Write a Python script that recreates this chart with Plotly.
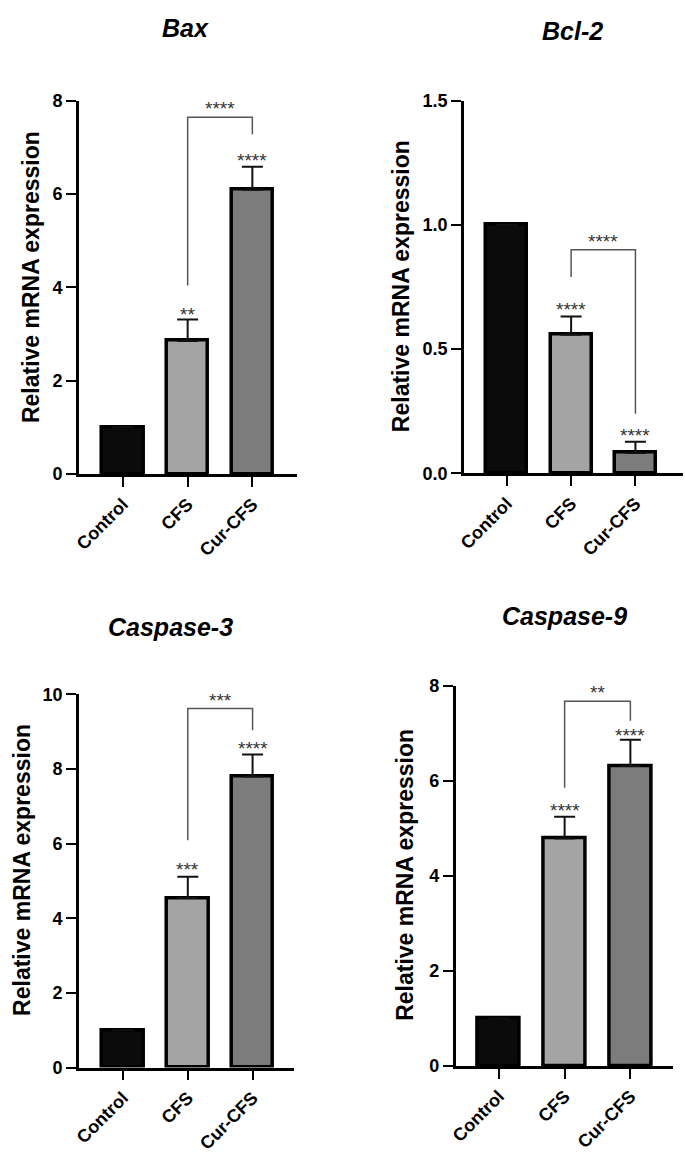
import plotly.graph_objects as go

# ---------------- data ----------------
categories = ["Control", "CFS", "Cur-CFS"]

bax_mean = [1.0, 2.85, 6.09]
bax_err = [0.0, 0.46, 0.49]
bcl2_mean = [1.0, 0.558, 0.082]
bcl2_err = [0.0, 0.073, 0.045]
casp3_mean = [1.0, 4.54, 7.80]
casp3_err = [0.0, 0.57, 0.59]
casp9_mean = [1.0, 4.79, 6.32]
casp9_err = [0.0, 0.46, 0.55]

# stars above each bar (label, y of label)
bax_stars = ["", "**", "****"]
bax_star_y = [None, 3.51, 6.80]
bcl2_stars = ["", "****", "****"]
bcl2_star_y = [None, 0.676, 0.17]
casp3_stars = ["", "***", "****"]
casp3_star_y = [None, 5.41, 8.66]
casp9_stars = ["", "****", "****"]
casp9_star_y = [None, 5.47, 7.05]

# comparison bracket CFS vs Cur-CFS: [top, left leg bottom, right leg bottom] and its label
bax_bracket = [7.64, 4.04, 7.28]
bax_bracket_label = "****"
bcl2_bracket = [0.90, 0.79, 0.24]
bcl2_bracket_label = "****"
casp3_bracket = [9.62, 6.09, 9.04]
casp3_bracket_label = "***"
casp9_bracket = [7.68, 5.86, 7.27]
casp9_bracket_label = "**"

titles = ["Bax", "Bcl-2", "Caspase-3", "Caspase-9"]
y_title = "Relative mRNA expression"
y_ranges = [[0, 8], [0, 1.5], [0, 10], [0, 8]]
y_dticks = [2, 0.5, 2, 2]
y_formats = ["d", ".1f", "d", "d"]

# ---------------- styling / layout ----------------
W, H = 685, 1170
bar_colors = ["#0b0b0b", "#a4a4a4", "#7c7c7c"]
FONT = "Arial, Liberation Sans, Helvetica, sans-serif"

# pixel geometry of each panel
panels = [
    dict(px=(72.7, 293), py=(92.1, 472.1), xr=[-0.68, 2.69],
         title_xy=(180, 18), ytitle_xy=(25, 272)),
    dict(px=(461.7, 683), py=(92.1, 471.4), xr=[-0.666, 2.74],
         title_xy=(571, 21), ytitle_xy=(398, 281)),
    dict(px=(72.7, 290), py=(696.3, 1075.9), xr=[-0.68, 2.64],
         title_xy=(165, 628), ytitle_xy=(15, 875)),
    dict(px=(453.3, 673), py=(687.9, 1074.4), xr=[-0.657, 2.65],
         title_xy=(563, 617), ytitle_xy=(402, 880)),
]

means = [bax_mean, bcl2_mean, casp3_mean, casp9_mean]
errs = [bax_err, bcl2_err, casp3_err, casp9_err]
stars = [bax_stars, bcl2_stars, casp3_stars, casp9_stars]
star_ys = [bax_star_y, bcl2_star_y, casp3_star_y, casp9_star_y]
brackets = [bax_bracket, bcl2_bracket, casp3_bracket, casp9_bracket]
bracket_labels = [bax_bracket_label, bcl2_bracket_label, casp3_bracket_label, casp9_bracket_label]

xpos = list(range(len(categories)))

fig = go.Figure()
annotations = []
layout_axes = {}

for i, p in enumerate(panels):
    n = i + 1
    xa = "x" if n == 1 else f"x{n}"
    ya = "y" if n == 1 else f"y{n}"
    xkey = "xaxis" if n == 1 else f"xaxis{n}"
    ykey = "yaxis" if n == 1 else f"yaxis{n}"

    fig.add_trace(go.Bar(
        x=xpos, y=means[i], width=0.64,
        marker=dict(color=bar_colors, line=dict(color="#000000", width=3.5)),
        error_y=dict(type="data", array=errs[i], arrayminus=[0] * len(errs[i]),
                     symmetric=False, color="#111111", thickness=2, width=10.5),
        xaxis=xa, yaxis=ya, showlegend=False, hoverinfo="skip",
    ))

    top, lbot, rbot = brackets[i]
    fig.add_trace(go.Scatter(
        x=[1, 1, 2, 2], y=[lbot, top, top, rbot], mode="lines",
        line=dict(color="#555555", width=1.5),
        xaxis=xa, yaxis=ya, showlegend=False, hoverinfo="skip",
    ))

    x0, x1 = p["px"]
    y0, y1 = p["py"]
    layout_axes[xkey] = dict(
        domain=[x0 / W, x1 / W], anchor=ya, range=p["xr"],
        tickmode="array", tickvals=xpos, ticktext=categories, tickangle=-45,
        showline=True, linecolor="#000000", linewidth=2.5,
        ticks="outside", ticklen=10, tickwidth=2, tickcolor="#000000",
        showgrid=False, zeroline=False, fixedrange=True,
        tickfont=dict(family=FONT, size=18, color="#000000", weight="bold"),
    )
    layout_axes[ykey] = dict(
        domain=[1 - y1 / H, 1 - y0 / H], anchor=xa, range=y_ranges[i],
        dtick=y_dticks[i], tick0=0, tickformat=y_formats[i],
        showline=True, linecolor="#000000", linewidth=2.5,
        ticks="outside", ticklen=10, tickwidth=2, tickcolor="#000000",
        showgrid=False, zeroline=False, fixedrange=True,
        tickfont=dict(family=FONT, size=18, color="#000000", weight="bold"),
    )

    # stars above bars
    for j, s in enumerate(stars[i]):
        if s:
            annotations.append(dict(
                x=xpos[j], y=star_ys[i][j], xref=xa, yref=ya, text=s,
                showarrow=False, yanchor="middle", yshift=-4,
                font=dict(family=FONT, size=19, color="#333333"),
            ))
    # stars above the comparison bracket
    annotations.append(dict(
        x=1.5, y=top, xref=xa, yref=ya, text=bracket_labels[i],
        showarrow=False, yanchor="bottom", yshift=-4,
        font=dict(family=FONT, size=19, color="#333333"),
    ))

    # panel title
    tx, ty = p["title_xy"]
    annotations.append(dict(
        x=tx / W, y=1 - ty / H, xref="paper", yref="paper",
        text=f"<b><i>{titles[i]}</i></b>", showarrow=False,
        xanchor="center", yanchor="middle",
        font=dict(family=FONT, size=25, color="#000000"),
    ))
    # y axis title
    yx, yy = p["ytitle_xy"]
    annotations.append(dict(
        x=yx / W, y=1 - yy / H, xref="paper", yref="paper",
        text=f"<b>{y_title}</b>", showarrow=False, textangle=-90,
        xanchor="center", yanchor="middle",
        font=dict(family=FONT, size=23, color="#000000"),
    ))

fig.update_layout(
    width=W, height=H,
    margin=dict(l=0, r=0, t=0, b=0),
    paper_bgcolor="white", plot_bgcolor="white",
    showlegend=False, bargap=0,
    annotations=annotations,
    **layout_axes,
)

fig.write_html("out.html", config={"displayModeBar": False},
               post_script="document.body.style.margin='0';")
